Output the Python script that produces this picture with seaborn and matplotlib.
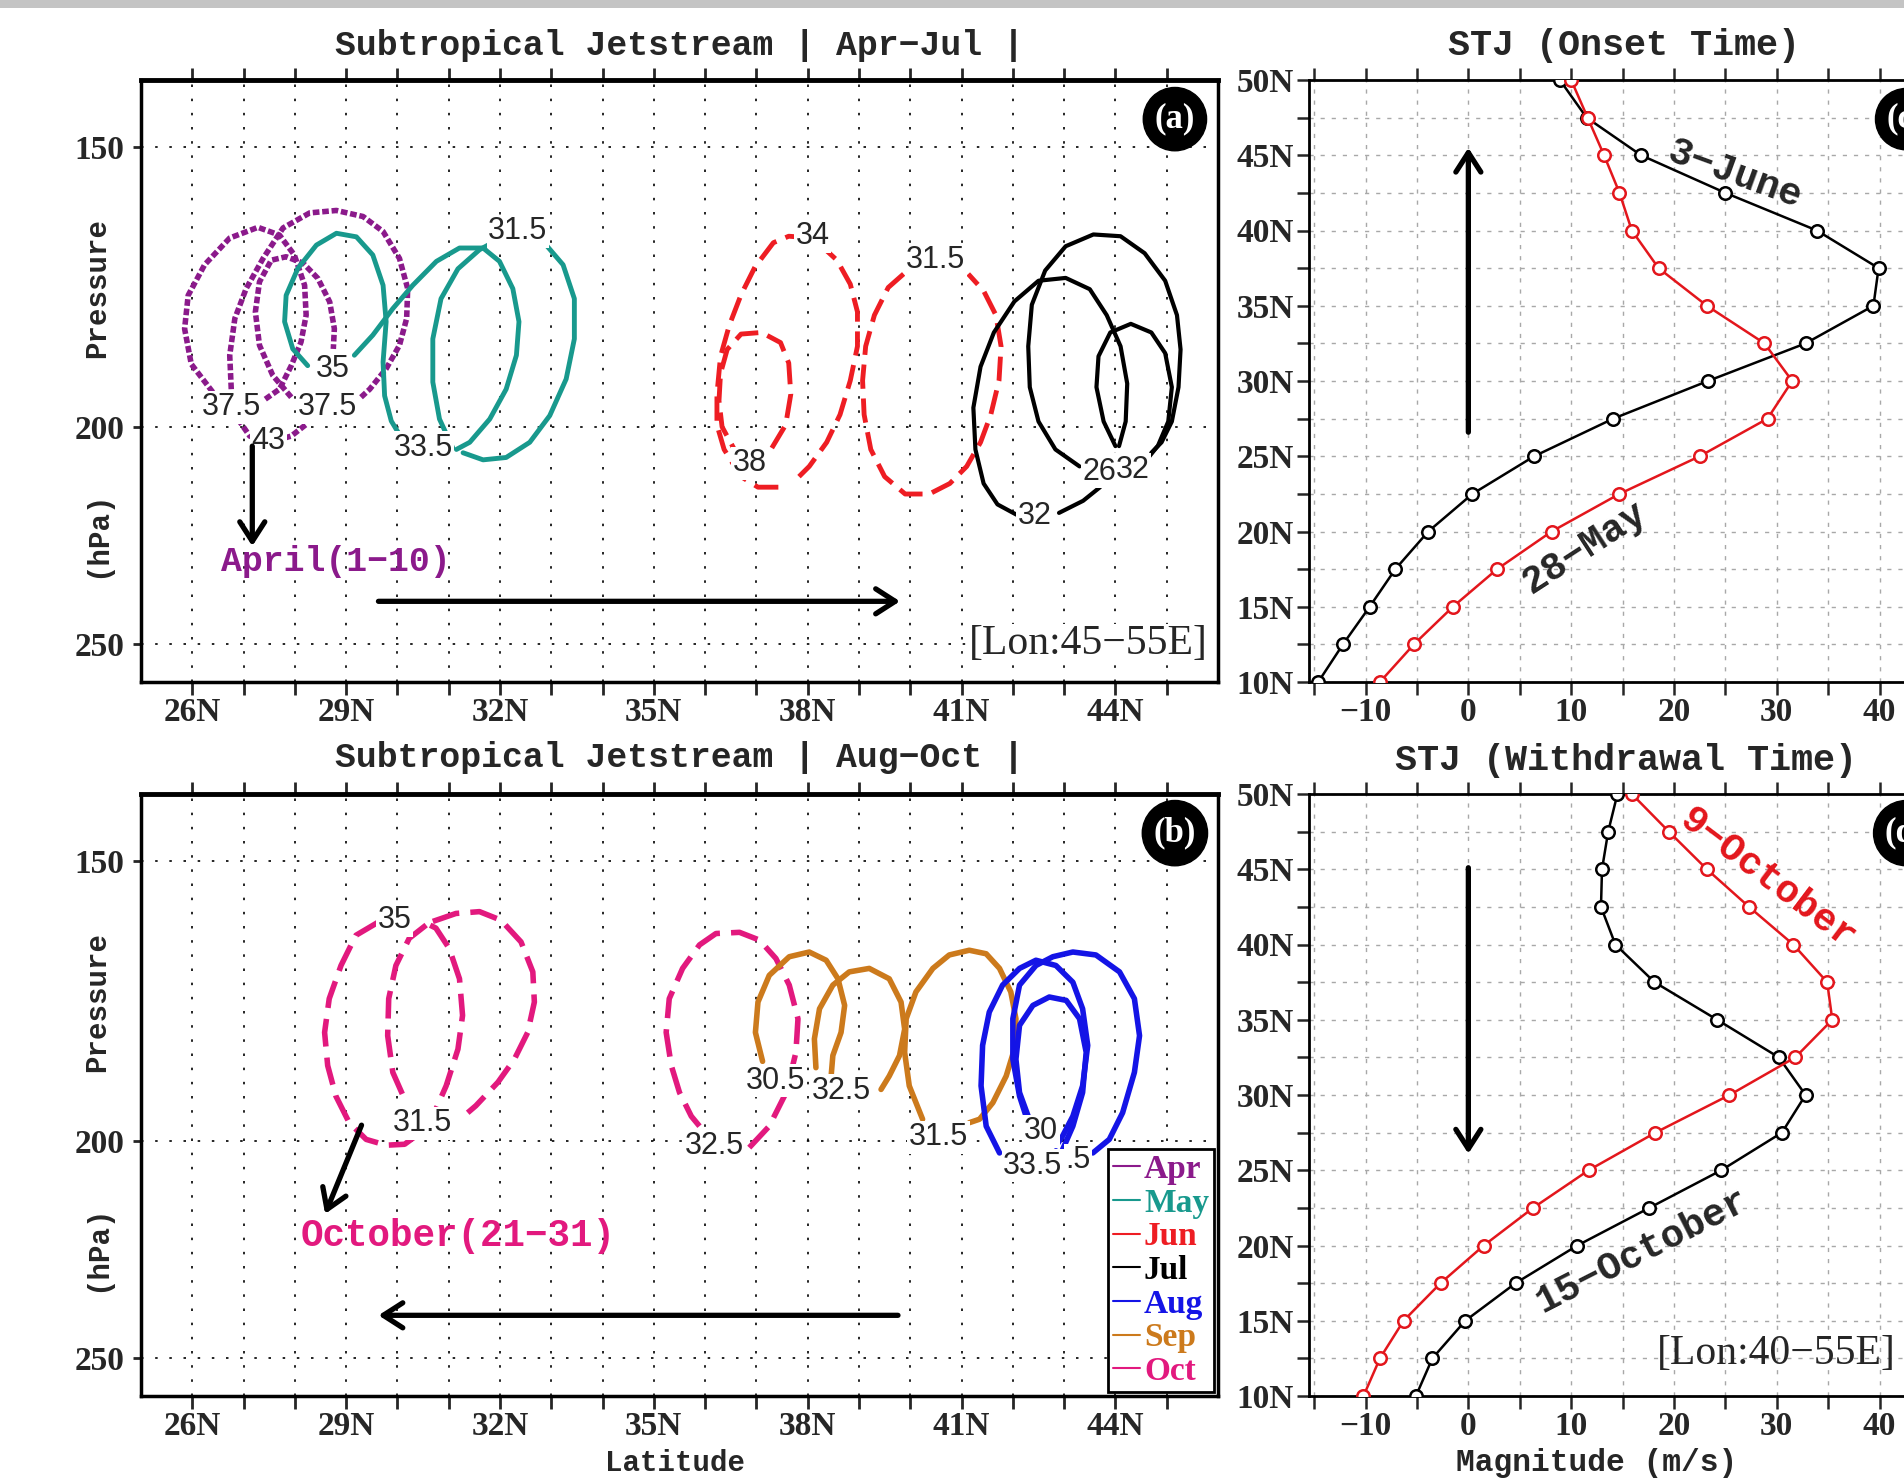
import matplotlib
matplotlib.use("Agg")
import matplotlib.pyplot as plt
import seaborn as sns
from matplotlib.lines import Line2D
from matplotlib.patches import Rectangle
from matplotlib.ticker import NullLocator, NullFormatter

sns.set_style("white")
plt.rcParams['font.family'] = ['Liberation Serif', 'DejaVu Sans']
plt.rcParams['axes.unicode_minus'] = True

# ---------------- panel (a): Apr-Jul jet core contours (lat, hPa) ----------------
apr_lat_1 = [26.40, 25.98, 25.85, 25.92, 26.24, 26.73, 27.28, 27.70, 27.99, 28.19, 28.22, 28.12, 27.93, 27.70, 27.38]
apr_hpa_1 = [193.0, 187.5, 180.8, 174.7, 169.3, 164.7, 162.9, 164.2, 167.6, 172.9, 178.3, 183.3, 187.8, 192.4, 194.7]
apr_lat_2 = [26.76, 26.73, 26.83, 27.05, 27.38, 27.77, 28.29, 28.81, 29.33, 29.72, 30.04, 30.20, 30.18, 30.04, 29.78, 29.46, 29.29]
apr_hpa_2 = [192.4, 185.8, 178.9, 173.5, 168.2, 163.0, 160.5, 160.1, 161.1, 163.6, 168.2, 173.5, 178.9, 183.9, 188.4, 192.4, 194.0]
apr_lat_3 = [27.93, 27.57, 27.31, 27.23, 27.31, 27.54, 27.83, 28.16, 28.45, 28.68, 28.77, 28.75]
apr_hpa_3 = [194.0, 189.7, 183.9, 177.7, 172.3, 168.5, 167.9, 169.0, 171.7, 175.9, 180.8, 184.6]
apr_lat_4 = [26.89, 27.12, 27.51, 27.93, 28.22]
apr_hpa_4 = [198.4, 201.9, 203.2, 201.9, 199.5]

may_lat_1 = [28.25, 27.96, 27.80, 27.83, 28.06, 28.42, 28.81, 29.20, 29.52, 29.72, 29.78, 29.72, 29.75, 29.88, 30.04]
may_hpa_1 = [187.8, 184.6, 179.5, 174.7, 169.9, 165.9, 163.9, 164.5, 167.6, 172.9, 179.5, 187.1, 193.7, 198.8, 201.6]
may_lat_2 = [29.16, 29.52, 29.91, 30.30, 30.76, 31.21, 31.67, 31.99, 32.25, 32.37, 32.32, 32.12, 31.80, 31.41, 31.15]
may_hpa_2 = [185.8, 182.0, 177.1, 172.9, 168.7, 166.4, 166.4, 168.7, 173.5, 179.5, 185.8, 192.4, 198.4, 203.2, 204.7]
may_lat_3 = [31.08, 30.82, 30.69, 30.69, 30.85, 31.18, 31.60, 31.83, 32.35, 32.90, 33.23, 33.45, 33.45, 33.29, 32.97, 32.58, 32.12, 31.67, 31.28]
may_hpa_3 = [204.4, 198.4, 191.0, 182.7, 175.3, 170.0, 166.7, 165.6, 164.0, 165.9, 169.3, 175.3, 182.7, 190.4, 197.7, 203.2, 206.4, 206.9, 205.4]

jun_lat_1 = [37.83, 38.03, 38.37, 38.63, 38.83, 38.97, 38.97, 38.83, 38.57, 38.10, 37.63, 37.33, 36.97, 36.70, 36.47, 36.30, 36.23, 36.23, 36.37, 36.70, 37.03, 37.57]
jun_hpa_1 = [210.5, 208.3, 203.2, 197.5, 190.7, 184.1, 177.7, 172.7, 168.5, 164.7, 164.4, 165.5, 169.7, 174.6, 180.2, 186.0, 193.4, 199.6, 204.7, 210.5, 212.8, 212.8]
jun_lat_2 = [37.30, 37.57, 37.67, 37.63, 37.47, 37.10, 36.70, 36.43, 36.30, 36.27, 36.33, 36.57, 36.87]
jun_hpa_2 = [204.4, 199.6, 193.4, 187.3, 183.4, 181.5, 181.8, 184.7, 189.3, 194.7, 200.0, 204.7, 207.6]
jun_lat_3 = [39.87, 39.57, 39.30, 39.13, 39.07, 39.10, 39.23, 39.50, 39.90, 40.37, 40.77, 41.10, 41.37, 41.57, 41.73, 41.77, 41.67, 41.43, 41.13]
jun_hpa_3 = [170.9, 173.3, 178.3, 184.1, 190.7, 197.5, 204.7, 210.5, 214.3, 214.3, 212.0, 208.3, 203.2, 197.5, 190.7, 184.1, 178.3, 173.9, 170.9]

jul_lat_1 = [42.07, 41.70, 41.43, 41.27, 41.23, 41.37, 41.63, 42.03, 42.50, 43.03, 43.50, 43.83, 44.10, 44.23, 44.20, 44.07]
jul_hpa_1 = [218.9, 216.6, 212.0, 204.7, 196.1, 188.0, 181.5, 175.8, 172.1, 171.6, 173.6, 178.3, 184.1, 191.3, 198.9, 204.0]
jul_lat_2 = [42.90, 43.37, 43.70]
jul_hpa_2 = [218.5, 215.8, 212.8]
jul_lat_3 = [43.30, 42.83, 42.50, 42.33, 42.30, 42.37, 42.63, 43.03, 43.57, 44.10, 44.57, 44.97, 45.20, 45.27, 45.23, 45.10, 44.90, 44.70]
jul_hpa_3 = [208.3, 204.7, 198.9, 192.0, 184.1, 176.4, 170.3, 166.1, 164.1, 164.4, 167.3, 172.1, 178.3, 184.7, 192.0, 198.9, 203.2, 205.4]
jul_lat_4 = [44.00, 43.77, 43.63, 43.67, 43.90, 44.30, 44.70, 44.97, 45.10, 45.03, 44.83, 44.63]
jul_hpa_4 = [204.0, 198.9, 192.0, 186.0, 181.5, 179.9, 181.5, 185.4, 192.0, 198.9, 203.9, 206.6]

a_lbl_text = ["37.5", "37.5", "43", "35", "33.5", "31.5", "34", "38", "31.5", "32", "32", "26"]
a_lbl_lat = [26.76, 28.64, 27.49, 28.74, 30.50, 32.35, 38.10, 36.87, 40.50, 42.43, 44.33, 43.68]
a_lbl_hpa = [196.0, 196.0, 203.0, 188.4, 204.4, 163.6, 164.4, 207.6, 168.5, 219.3, 209.0, 209.4]

# ---------------- panel (b): Aug-Oct ----------------
aug_lat_1 = [41.74, 41.48, 41.38, 41.41, 41.54, 41.80, 42.13, 42.45, 42.84, 43.17, 43.36, 43.46, 43.36, 43.17, 42.97, 42.84]
aug_hpa_1 = [202.5, 197.0, 189.0, 181.3, 175.2, 170.4, 167.5, 166.1, 167.0, 169.9, 174.6, 181.3, 189.0, 195.0, 199.0, 201.1]
aug_lat_2 = [43.56, 43.88, 44.14, 44.37, 44.47, 44.37, 44.08, 43.62, 43.17, 42.78, 42.45, 42.13, 42.00, 42.00, 42.13, 42.32, 42.45]
aug_hpa_2 = [202.5, 199.7, 194.3, 186.4, 179.5, 172.8, 168.1, 165.2, 164.7, 165.5, 167.0, 170.4, 176.4, 183.9, 191.0, 197.0, 199.7]
aug_lat_3 = [42.97, 43.17, 43.36, 43.43, 43.30, 43.04, 42.71, 42.39, 42.13, 42.06, 42.13, 42.32, 42.52]
aug_hpa_3 = [201.8, 197.0, 190.3, 182.6, 176.4, 173.1, 172.5, 174.0, 177.6, 183.9, 190.3, 195.6, 199.0]

sep_lat_1 = [37.12, 36.98, 37.03, 37.25, 37.64, 38.03, 38.36, 38.59, 38.72, 38.65, 38.49, 38.46]
sep_hpa_1 = [184.3, 178.9, 173.4, 168.7, 165.5, 164.7, 166.1, 169.3, 174.0, 178.9, 183.2, 186.7]
sep_lat_2 = [38.16, 38.13, 38.23, 38.49, 38.81, 39.20, 39.59, 39.82, 39.89, 39.79, 39.59, 39.43]
sep_hpa_2 = [185.5, 180.1, 174.6, 170.4, 168.1, 167.5, 169.3, 173.4, 178.3, 183.2, 187.1, 189.7]
sep_lat_3 = [40.24, 39.98, 39.89, 39.92, 40.11, 40.44, 40.76, 41.15, 41.48, 41.74, 41.96, 42.06, 42.03, 41.87, 41.61, 41.35, 41.15]
sep_hpa_3 = [195.6, 189.0, 182.6, 176.4, 171.6, 167.5, 165.2, 164.4, 165.0, 167.5, 171.6, 176.4, 182.0, 187.1, 192.3, 195.6, 196.3]

oct_lat_1 = [29.65, 29.19, 28.90, 28.67, 28.58, 28.64, 28.80, 29.06, 29.39, 29.78, 30.14, 30.36, 30.69, 30.95, 31.18, 31.27, 31.21, 31.01, 30.75, 30.56]
oct_hpa_1 = [159.6, 161.9, 167.0, 172.8, 178.9, 185.1, 191.0, 196.3, 199.7, 200.9, 200.7, 199.0, 195.0, 189.0, 182.0, 175.8, 169.3, 164.1, 160.7, 159.9]
oct_lat_2 = [30.56, 30.23, 29.97, 29.83, 29.81, 29.91, 30.14]
oct_hpa_2 = [160.2, 162.4, 167.0, 172.8, 179.5, 186.4, 191.6]
oct_lat_3 = [30.69, 31.14, 31.60, 32.02, 32.41, 32.64, 32.67, 32.54, 32.28, 31.96, 31.53, 31.37]
oct_hpa_3 = [159.6, 158.3, 158.0, 159.4, 163.0, 168.1, 173.4, 178.9, 183.9, 188.3, 192.9, 194.3]
oct_lat_4 = [36.86, 37.25, 37.58, 37.77, 37.81, 37.64, 37.38, 37.06, 36.67, 36.21, 35.89, 35.56, 35.30, 35.24, 35.34, 35.50, 35.73, 35.89]
oct_hpa_4 = [201.4, 197.0, 190.3, 182.6, 176.4, 170.4, 165.8, 162.7, 161.4, 161.6, 163.5, 167.5, 172.8, 178.9, 185.1, 190.3, 195.0, 197.0]

b_lbl_text = ["35", "31.5", "32.5", "30.5", "32.5", "31.5", "30", "33.5", ".5"]
b_lbl_lat = [29.95, 30.49, 36.18, 37.38, 38.65, 40.55, 42.55, 42.39, 43.27]
b_lbl_hpa = [159.4, 196.4, 201.1, 188.0, 190.0, 199.3, 198.0, 205.2, 204.0]

# ---------------- panels (c), (d): zonal wind profiles ----------------
prof_lat = [10.0, 12.5, 15.0, 17.5, 20.0, 22.5, 25.0, 27.5, 30.0, 32.5, 35.0, 37.5, 40.0, 42.5, 45.0, 47.5, 50.0]
onset_jun3 = [-14.6, -12.2, -9.6, -7.1, -3.9, 0.4, 6.4, 14.1, 23.3, 32.8, 39.4, 39.9, 33.9, 25.0, 16.8, 11.5, 8.9]
onset_may28 = [-8.6, -5.3, -1.5, 2.8, 8.1, 14.7, 22.5, 29.1, 31.5, 28.8, 23.2, 18.5, 15.9, 14.7, 13.2, 11.6, 10.0]
withdraw_oct15 = [-5.1, -3.5, -0.3, 4.6, 10.6, 17.6, 24.6, 30.5, 32.8, 30.2, 24.2, 18.1, 14.3, 12.9, 13.0, 13.6, 14.5]
withdraw_oct9 = [-10.2, -8.6, -6.3, -2.7, 1.5, 6.3, 11.7, 18.2, 25.4, 31.8, 35.4, 34.9, 31.6, 27.3, 23.2, 19.5, 15.9]

months = ["Apr", "May", "Jun", "Jul", "Aug", "Sep", "Oct"]
month_colors = ["#8b1a8b", "#18998d", "#ee1d23", "#000000", "#1414e6", "#cc7a1c", "#e2197e"]
month_ls = [(0, (1.2, 0.5)), "-", (0, (5, 2)), "-", "-", "-", (0, (5, 2))]
month_lw = [4.0, 3.5, 3.5, 3.0, 4.0, 4.0, 4.0]

lat_ticks = list(range(26, 46))
p_ticks = [150, 200, 250]
mag_ticks = [-10, 0, 10, 20, 30, 40]
mag_minor = [-15, -5, 5, 15, 25, 35, 45]
plat_ticks = [10, 15, 20, 25, 30, 35, 40, 45, 50]
plat_minor = [12.5, 17.5, 22.5, 27.5, 32.5, 37.5, 42.5, 47.5]

W, H = 1904, 1482
fig = plt.figure(figsize=(W / 100, H / 100), dpi=100)


def place(left, top, right, bottom):
    return [left / W, 1 - bottom / H, (right - left) / W, (bottom - top) / H]


ax_a = fig.add_axes(place(141, 80, 1218, 682))
ax_b = fig.add_axes(place(141, 794, 1218, 1396))
ax_c = fig.add_axes(place(1309, 80, 1931, 682))
ax_d = fig.add_axes(place(1309, 794, 1931, 1396))

fig.add_artist(Rectangle((0, 1 - 8 / H), 1, 8 / H, transform=fig.transFigure, fc="#c4c4c4", ec="none"))

mono = "Liberation Mono"
sans = "Liberation Sans"


def style_section(ax):
    ax.set_yscale("log")
    ax.set_xlim(25, 46)
    ax.set_ylim(260, 140)
    ax.set_xticks(lat_ticks, labels=[f"{v}N" if (v - 26) % 3 == 0 else "" for v in lat_ticks],
                  fontweight="bold", fontsize=24)
    ax.set_yticks(p_ticks, labels=[str(v) for v in p_ticks], fontweight="bold", fontsize=24)
    ax.yaxis.set_minor_locator(NullLocator())
    ax.yaxis.set_minor_formatter(NullFormatter())
    ax.set_axisbelow(True)
    ax.grid(True, which="major", color="k", linestyle=(0, (1.5, 7)), linewidth=1.2)
    ax.tick_params(axis="x", which="major", direction="out", length=9, width=2,
                   top=True, bottom=True, pad=1.5)
    ax.tick_params(axis="y", which="major", direction="out", length=6, width=2,
                   left=True, right=False, pad=6)
    for s in ax.spines.values():
        s.set_visible(True)
        s.set_linewidth(2.5)
        s.set_color("k")
    ax.spines["top"].set_linewidth(3.5)
    ax.text(-0.041, 0.654, "Pressure", rotation=90, transform=ax.transAxes, ha="center",
            va="center", family=mono, fontweight="bold", fontsize=21)
    ax.text(-0.041, 0.246, "(hPa)", rotation=90, transform=ax.transAxes, ha="center",
            va="center", family=mono, fontweight="bold", fontsize=21)


def style_profile(ax):
    ax.set_xlim(-15.5, 45)
    ax.set_ylim(10, 50)
    ax.set_xticks(mag_ticks, labels=[str(v).replace("-", "\u2212") for v in mag_ticks],
                  fontweight="bold", fontsize=24)
    ax.set_xticks(mag_minor, minor=True)
    ax.set_yticks(plat_ticks, labels=[f"{v}N" for v in plat_ticks], fontweight="bold", fontsize=24)
    ax.set_yticks(plat_minor, minor=True)
    ax.set_axisbelow(True)
    ax.grid(True, which="both", color="#a8a8a8", linestyle=(0, (3, 5)), linewidth=1.0)
    ax.tick_params(axis="both", which="both", direction="out", length=9, width=1.8)
    ax.tick_params(axis="x", which="both", top=True, bottom=True, pad=1.5)
    ax.tick_params(axis="y", which="both", left=True, right=False, pad=2)
    ax.set_xlabel("")
    ax.set_ylabel("")
    for s in ax.spines.values():
        s.set_visible(True)
        s.set_linewidth(2.0)
        s.set_color("k")


def draw_curves(ax, curves):
    for month, lats, hpas in curves:
        i = months.index(month)
        ax.plot(lats, hpas, color=month_colors[i], linestyle=month_ls[i], lw=month_lw[i],
                zorder=3, solid_capstyle="round", solid_joinstyle="round",
                dash_joinstyle="round")


def draw_labels(ax, texts, lats, hpas):
    for t, x, y in zip(texts, lats, hpas):
        ax.text(x, y, t, family=sans, fontsize=22, ha="center", va="center", zorder=4,
                bbox=dict(boxstyle="square,pad=0.05", fc="white", ec="none"))


def circle_tag(ax, tag):
    ax.text(0.96, 0.935, tag, transform=ax.transAxes, ha="center", va="center", color="white",
            fontsize=25, fontweight="bold", zorder=6,
            bbox=dict(boxstyle="circle,pad=0.33", fc="black", ec="black"))


def arrow(ax, tail, tip):
    ax.annotate("", xy=tip, xytext=tail, zorder=5,
                arrowprops=dict(arrowstyle="->,head_length=1.4,head_width=0.9", lw=3.8,
                                color="k", mutation_scale=10, shrinkA=0, shrinkB=0))


# ---- (a)
style_section(ax_a)
draw_curves(ax_a, [("Apr", apr_lat_1, apr_hpa_1), ("Apr", apr_lat_2, apr_hpa_2),
                   ("Apr", apr_lat_3, apr_hpa_3), ("Apr", apr_lat_4, apr_hpa_4),
                   ("May", may_lat_1, may_hpa_1), ("May", may_lat_2, may_hpa_2),
                   ("May", may_lat_3, may_hpa_3),
                   ("Jun", jun_lat_1, jun_hpa_1), ("Jun", jun_lat_2, jun_hpa_2),
                   ("Jun", jun_lat_3, jun_hpa_3),
                   ("Jul", jul_lat_1, jul_hpa_1), ("Jul", jul_lat_2, jul_hpa_2),
                   ("Jul", jul_lat_3, jul_hpa_3), ("Jul", jul_lat_4, jul_hpa_4)])
draw_labels(ax_a, a_lbl_text, a_lbl_lat, a_lbl_hpa)
arrow(ax_a, (27.17, 204.0), (27.17, 226.1))
arrow(ax_a, (29.63, 239.3), (39.80, 239.3))
ax_a.text(28.79, 229.8, "April(1\u221210)", color=month_colors[0], family=mono,
          fontweight="bold", fontsize=25, ha="center", va="center")
ax_a.text(45.8, 250, "[Lon:45\u221255E]", fontsize=30, ha="right", va="center", zorder=5,
          bbox=dict(boxstyle="square,pad=0.02", fc="white", ec="none"))
ax_a.text(0.5, 1.058, "Subtropical Jetstream | Apr\u2212Jul |", transform=ax_a.transAxes,
          ha="center", va="center", family=mono, fontweight="bold", fontsize=25)
circle_tag(ax_a, "(a)")

# ---- (b)
style_section(ax_b)
draw_curves(ax_b, [("Oct", oct_lat_1, oct_hpa_1), ("Oct", oct_lat_2, oct_hpa_2),
                   ("Oct", oct_lat_3, oct_hpa_3), ("Oct", oct_lat_4, oct_hpa_4),
                   ("Sep", sep_lat_1, sep_hpa_1), ("Sep", sep_lat_2, sep_hpa_2),
                   ("Sep", sep_lat_3, sep_hpa_3),
                   ("Aug", aug_lat_1, aug_hpa_1), ("Aug", aug_lat_2, aug_hpa_2),
                   ("Aug", aug_lat_3, aug_hpa_3)])
draw_labels(ax_b, b_lbl_text, b_lbl_lat, b_lbl_hpa)
arrow(ax_b, (29.30, 196.8), (28.59, 215.6))
arrow(ax_b, (39.76, 239.3), (29.63, 239.3))
ax_b.text(31.19, 220.6, "October(21\u221231)", color=month_colors[6], family=mono,
          fontweight="bold", fontsize=27, ha="center", va="center")
ax_b.text(0.5, 1.060, "Subtropical Jetstream | Aug\u2212Oct |", transform=ax_b.transAxes,
          ha="center", va="center", family=mono, fontweight="bold", fontsize=25)
ax_b.text(0.496, -0.111, "Latitude", transform=ax_b.transAxes, ha="center", va="center",
          family=mono, fontweight="bold", fontsize=21)
handles = [Line2D([0], [0], color=c, lw=1.5) for c in month_colors]
leg = ax_b.legend(handles, months, loc="lower right", frameon=True, fancybox=False,
                  edgecolor="k", framealpha=1, handlelength=0.8, handletextpad=0.12,
                  labelspacing=0.08, borderpad=0.15, borderaxespad=0.12,
                  prop={"family": "Liberation Serif", "weight": "bold", "size": 24},
                  labelcolor="linecolor")
leg.get_frame().set_linewidth(2)
leg.set_zorder(7)
circle_tag(ax_b, "(b)")

# ---- (c)
sns.lineplot(x=onset_jun3, y=prof_lat, orient="y", sort=False, estimator=None, ax=ax_c,
             color="black", lw=1.8, marker="o", markersize=9, markerfacecolor="white",
             markeredgecolor="black", markeredgewidth=1.8, zorder=3)
sns.lineplot(x=onset_may28, y=prof_lat, orient="y", sort=False, estimator=None, ax=ax_c,
             color="#e3161c", lw=1.8, marker="o", markersize=9, markerfacecolor="white",
             markeredgecolor="#e3161c", markeredgewidth=1.8, zorder=3)
style_profile(ax_c)
arrow(ax_c, (0, 26.6), (0, 45.5))
ax_c.text(25.9, 43.7, "3\u2212June", rotation=-20, family=mono, fontsize=28,
          fontweight="bold", ha="center", va="center")
ax_c.text(11.3, 18.9, "28\u2212May", rotation=33, family=mono, fontsize=28,
          fontweight="bold", ha="center", va="center")
ax_c.text(0.506, 1.058, "STJ (Onset Time)", transform=ax_c.transAxes, ha="center",
          va="center", family=mono, fontweight="bold", fontsize=26.5)
circle_tag(ax_c, "(c)")

# ---- (d)
sns.lineplot(x=withdraw_oct15, y=prof_lat, orient="y", sort=False, estimator=None, ax=ax_d,
             color="black", lw=1.8, marker="o", markersize=9, markerfacecolor="white",
             markeredgecolor="black", markeredgewidth=1.8, zorder=3)
sns.lineplot(x=withdraw_oct9, y=prof_lat, orient="y", sort=False, estimator=None, ax=ax_d,
             color="#e3161c", lw=1.8, marker="o", markersize=9, markerfacecolor="white",
             markeredgecolor="#e3161c", markeredgewidth=1.8, zorder=3)
style_profile(ax_d)
arrow(ax_d, (0, 45.1), (0, 26.1))
ax_d.text(29.1, 44.3, "9\u2212October", rotation=-37, family=mono, fontsize=28,
          fontweight="bold", color="#e3161c", ha="center", va="center")
ax_d.text(16.9, 19.65, "15\u2212October", rotation=27, family=mono, fontsize=28,
          fontweight="bold", ha="center", va="center")
ax_d.text(18.3, 12.8, "[Lon:40\u221255E]", fontsize=30, ha="left", va="center")
ax_d.text(0.51, 1.055, "STJ (Withdrawal Time)", transform=ax_d.transAxes, ha="center",
          va="center", family=mono, fontweight="bold", fontsize=26.5)
ax_d.text(0.463, -0.111, "Magnitude (m/s)", transform=ax_d.transAxes, ha="center",
          va="center", family=mono, fontweight="bold", fontsize=22.5)
circle_tag(ax_d, "(d)")

fig.savefig("out.png", dpi=100)
